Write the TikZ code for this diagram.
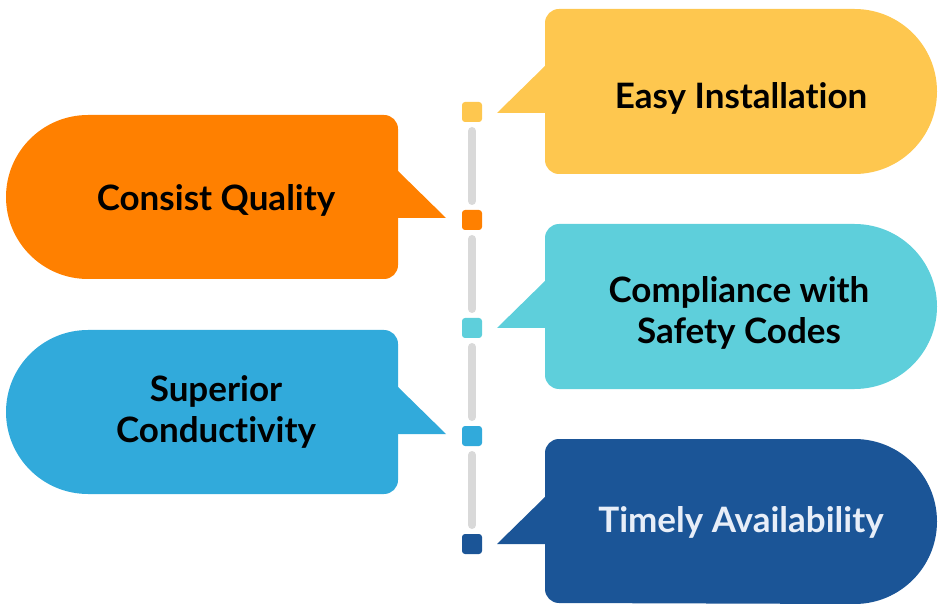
\documentclass[tikz,border=0pt]{standalone}
\usepackage{fontspec}
\setmainfont{Lato}[Ligatures=NoCommon]
\definecolor{cyel}{HTML}{FEC74F}
\definecolor{corg}{HTML}{FF8000}
\definecolor{ccya}{HTML}{5ECFDB}
\definecolor{cblu}{HTML}{31AADB}
\definecolor{cdrk}{HTML}{1B5597}
\definecolor{cbar}{HTML}{D9D9D9}
\definecolor{ctxl}{HTML}{E8EEF8}
\tikzset{
  lbl/.style={font=\fontsize{35}{41}\selectfont\bfseries, align=center, text=black, inner sep=0pt},
  sq/.style={rounded corners=3pt, minimum width=20pt, minimum height=20pt, inner sep=0pt},
  bar/.style={draw=cbar, line width=8pt, line cap=round},
}
% right bubble: #1 color, #2 top, #3 bottom, #4 tail y
\newcommand{\rbub}[4]{%
  \fill[#1] (559,#2) -- (854.5,#2) arc[start angle=-90,end angle=90,radius=82.5]
    -- (559,#3) arc[start angle=90,end angle=180,radius=14]
    -- (545,#2+14) arc[start angle=180,end angle=270,radius=14] -- cycle;
  \fill[#1] (546,#4-48) -- (497,#4) -- (546,#4) -- cycle;}
\newcommand{\lbub}[4]{%
  \fill[#1] (88,#2) -- (384,#2) arc[start angle=-90,end angle=0,radius=14]
    -- (398,#3-14) arc[start angle=0,end angle=90,radius=14]
    -- (88,#3) arc[start angle=90,end angle=270,radius=82] -- cycle;
  \fill[#1] (397,#4-48) -- (446,#4) -- (397,#4) -- cycle;}
\begin{document}
\begin{tikzpicture}[x=1pt,y=-1pt]
\useasboundingbox (0,0) rectangle (946,604);
% bubbles
\rbub{cyel}{9}{174}{113}
\lbub{corg}{115}{279}{218}
\rbub{ccya}{224}{389}{328}
\lbub{cblu}{330}{494}{434}
\rbub{cdrk}{439}{603}{544}
% timeline markers
\node[sq, fill=cyel] (s1) at (472,112) {};
\node[sq, fill=corg] (s2) at (472,220) {};
\node[sq, fill=ccya] (s3) at (472,328) {};
\node[sq, fill=cblu] (s4) at (472,436) {};
\node[sq, fill=cdrk] (s5) at (472,544) {};
\draw[bar] ([yshift=-19pt]s1.center) -- ([yshift=19pt]s2.center);
\draw[bar] ([yshift=-19pt]s2.center) -- ([yshift=19pt]s3.center);
\draw[bar] ([yshift=-19pt]s3.center) -- ([yshift=19pt]s4.center);
\draw[bar] ([yshift=-19pt]s4.center) -- ([yshift=19pt]s5.center);
% labels
\node[lbl] (t1) at (741,98) {Easy Installation};
\node[lbl] (t2) at (216,200) {Consist Quality};
\node[lbl] (t3) at (739,313) {Compliance with\\Safety Codes};
\node[lbl] (t4) at (216,412) {Superior\\Conductivity};
\node[lbl, text=ctxl] (t5) at (741,522) {Timely Availability};
\end{tikzpicture}
\end{document}
